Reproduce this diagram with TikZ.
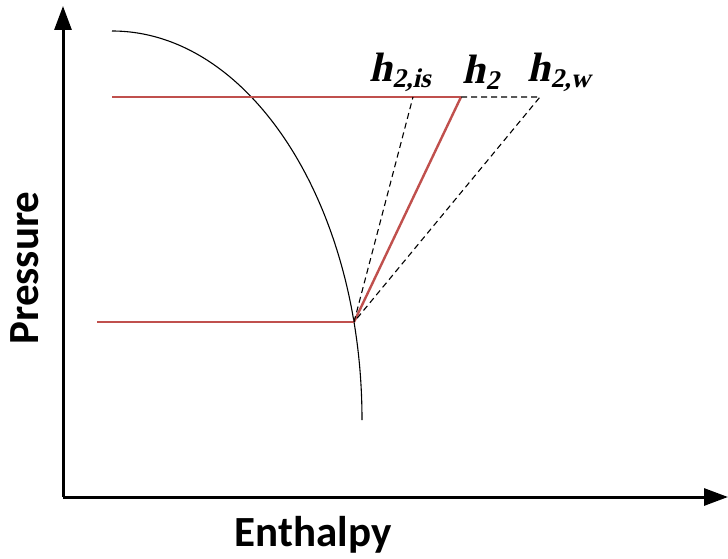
\documentclass[tikz,border=0pt]{standalone}
\usepackage{fontspec}
\newfontfamily\labelfont{Liberation Serif}[FakeSlant=0.22]
\newfontfamily\axisfont{Carlito}
\usetikzlibrary{arrows.meta}
\definecolor{cycred}{RGB}{192,80,77}
\newcommand{\hsub}[1]{h\raisebox{-6pt}{\fontsize{27}{30}\selectfont #1}}
\tikzset{
  axis/.style={line width=3pt,-{Triangle[length=24pt,width=17pt]}},
  cycle/.style={draw=cycred,line width=2.4pt},
  guide/.style={draw=black,line width=1.1pt,dash pattern=on 6pt off 4pt},
  hlabel/.style={inner sep=0pt,font=\labelfont\fontsize{41}{45}\selectfont\bfseries},
  axislabel/.style={inner sep=0pt,font=\axisfont\fontsize{43}{48}\selectfont\bfseries}
}
\begin{document}
\begin{tikzpicture}[x=1pt,y=-1pt]
\useasboundingbox (0,0) rectangle (728,559);
% axes
\coordinate (O) at (63,497);
\coordinate (Ytop) at (63,6);
\coordinate (Xend) at (728,497);
\draw[axis] (O)--(Ytop);
\draw[axis] (O)--(Xend);
\node[axislabel,rotate=90] (P) at (25,268) {Pressure};
\node[axislabel] (H) at (313,535) {Enthalpy};
% saturation curve
\draw[line width=1.1pt] (112,31) arc[start angle=90,end angle=0,x radius=250,y radius=-389];
% cycle points
\coordinate (A) at (354,322);
\coordinate (Alft) at (97,322);
\coordinate (B) at (461,97);
\coordinate (Blft) at (112,97);
\coordinate (Bis) at (413,97);
\coordinate (Bw) at (540,97);
\draw[cycle] (Blft)--(B);
\draw[cycle] (Alft)--(A);
\draw[cycle] (A)--(B);
\draw[guide] (A)--(Bis);
\draw[guide] (B)--(Bw)--(A);
% labels
\node[hlabel] (Lis) at (400,72) {\hsub{2,is}};
\node[hlabel] (L2) at (481,72) {\hsub{2}};
\node[hlabel] (Lw) at (559,72) {\hsub{2,w}};
\end{tikzpicture}
\end{document}
